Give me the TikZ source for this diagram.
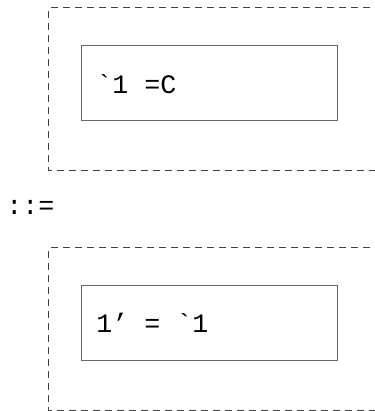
\documentclass[tikz,border=0pt]{standalone}
\usepackage{fontspec}
\newfontfamily\cour{Liberation Mono}
\begin{document}
\begin{tikzpicture}[x=0.75pt,y=-0.75pt,
  outerbox/.style={draw=black!75,line width=0.75pt,dash pattern=on 5.25pt off 3.75pt},
  innerbox/.style={draw=black!60,line width=0.9pt},
  code/.style={font=\cour\fontsize{20}{24}\selectfont,inner sep=0pt,anchor=base west}]
\useasboundingbox (0,0) rectangle (375,411);
\begin{scope}
\clip (0,0) rectangle (375,411);
\draw[outerbox] (400,410) -- (48.5,410) -- (48.5,247.5) -- (400,247.5);
\draw[outerbox] (400,170) -- (48.5,170) -- (48.5,7.5) -- (400,7.5);
\end{scope}
\node[innerbox,minimum width=256pt*0.75,minimum height=75pt*0.75,inner sep=0pt,anchor=north west] (top) at (80.5,44.5) {};
\node[innerbox,minimum width=256pt*0.75,minimum height=75pt*0.75,inner sep=0pt,anchor=north west] (bot) at (80.5,284.5) {};
\node[code] (t1) at (96,93) {`1 =C};
\node[code] (def) at (6,214) {::=};
\node[code] (t2) at (96,332) {1’ = `1};
\end{tikzpicture}
\end{document}
